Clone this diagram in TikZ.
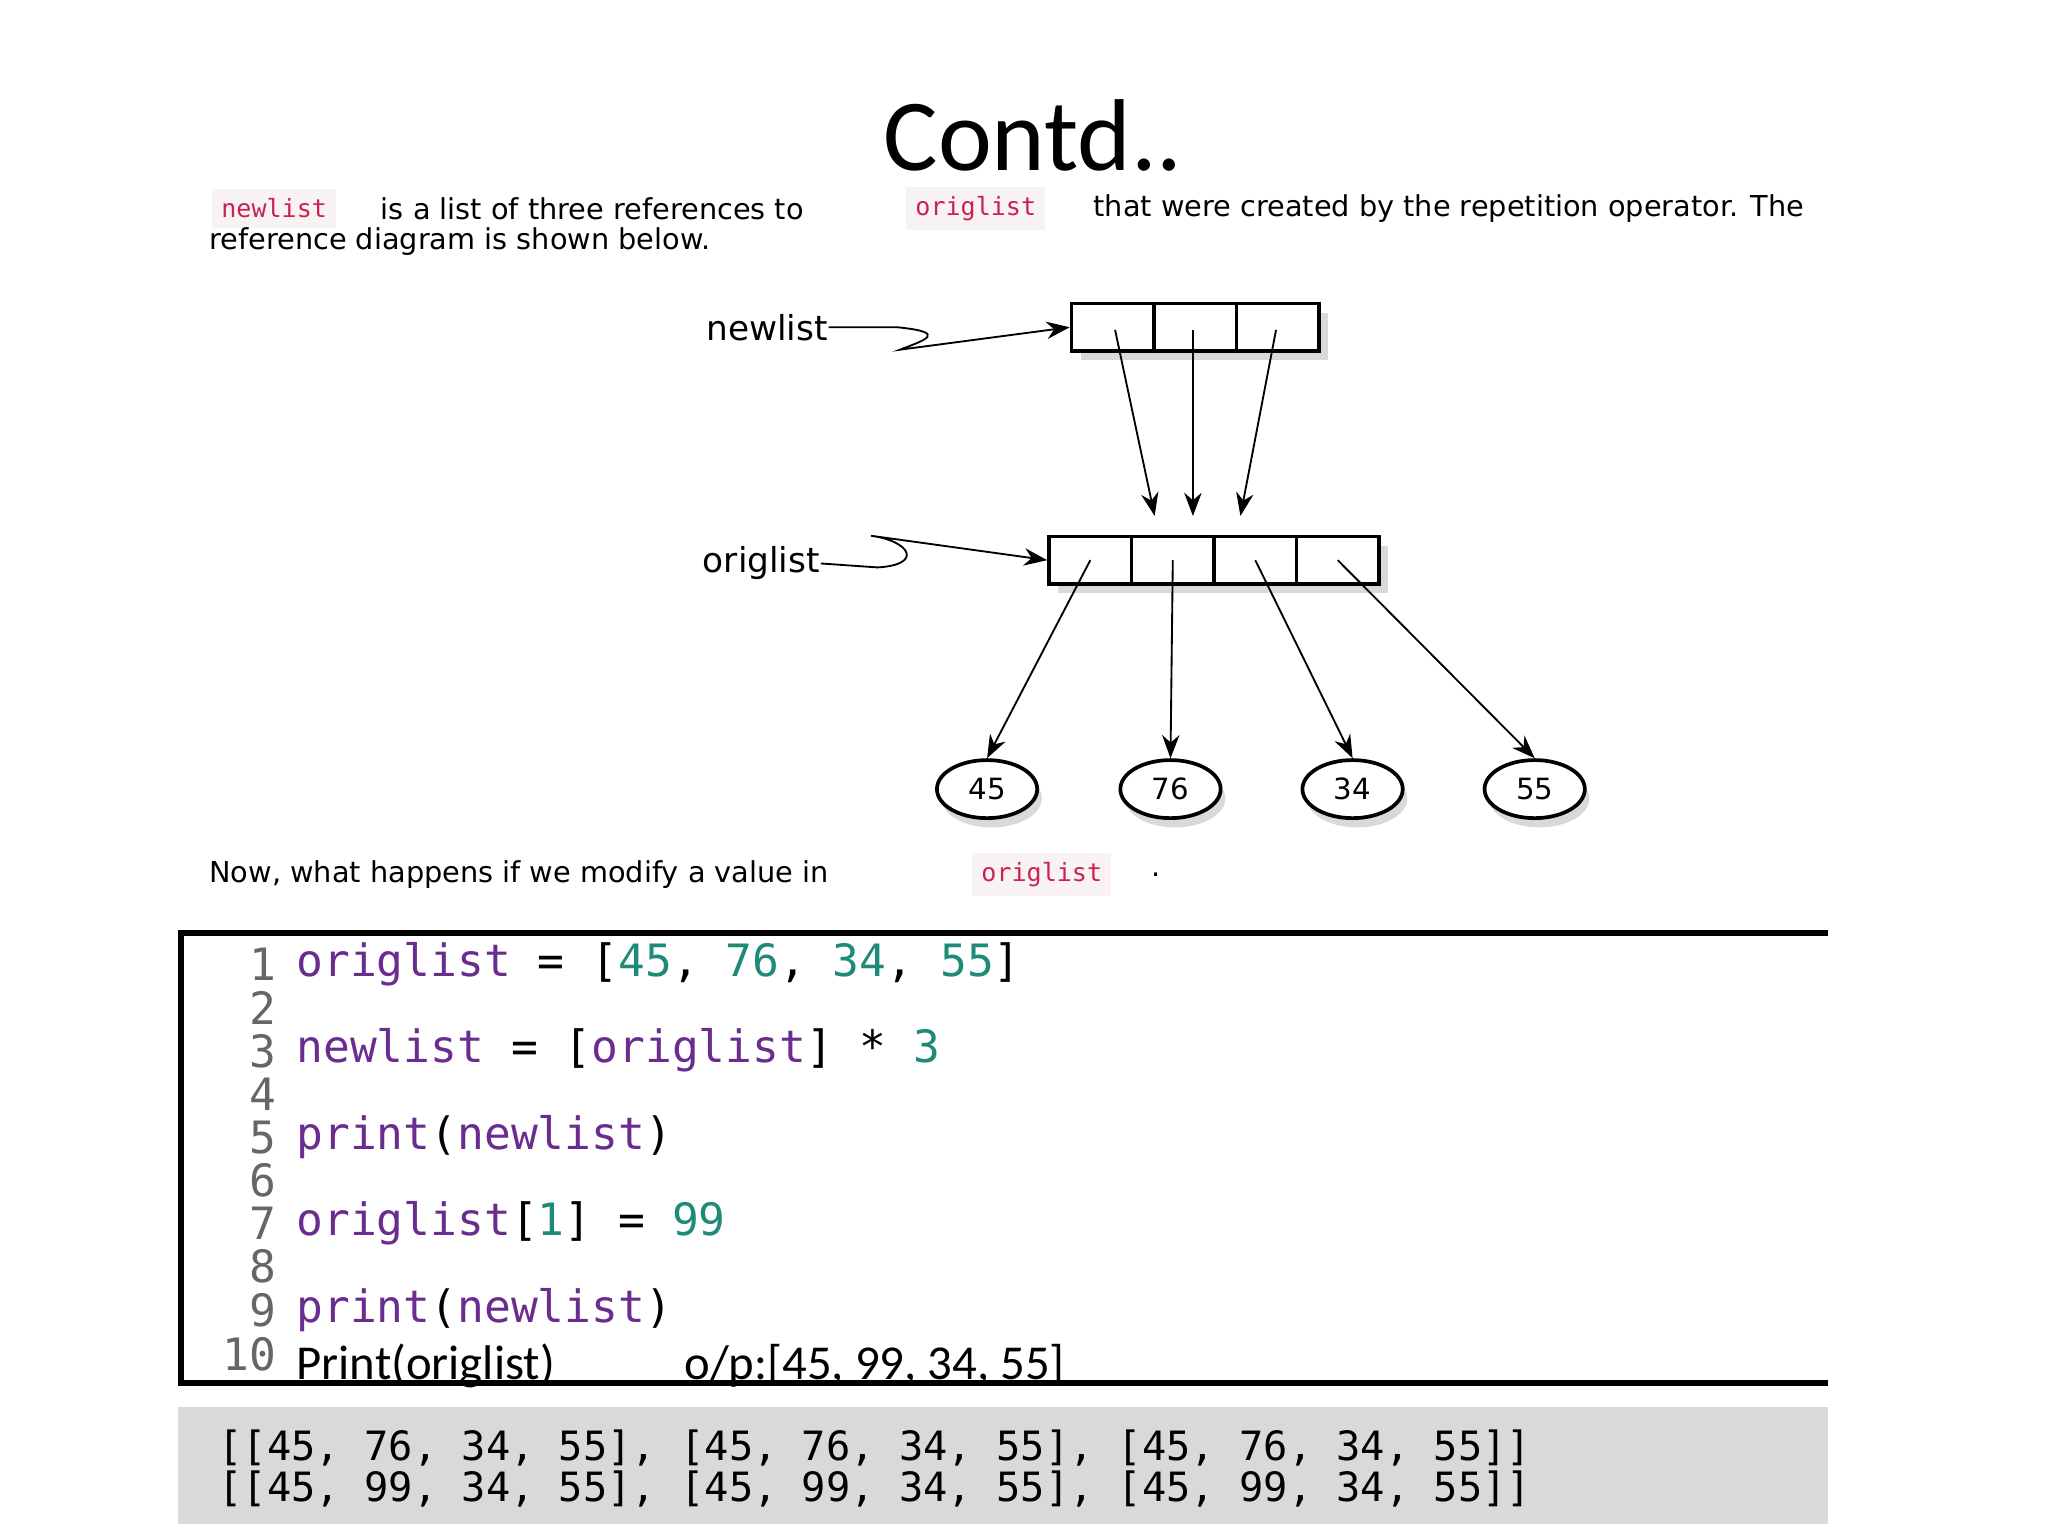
\documentclass[tikz,border=0pt]{standalone}
\usepackage{fontspec}
\setmainfont{Carlito}
\newfontfamily\para{DejaVu Sans}
\newfontfamily\mono{DejaVu Sans Mono}
\usetikzlibrary{arrows.meta,shadows,shapes.geometric}
\definecolor{idc}{HTML}{6A2C8E}
\definecolor{numc}{HTML}{1E8A78}
\definecolor{pinkc}{HTML}{C7254E}
\definecolor{pinkbg}{HTML}{F9F2F4}
\begin{document}
\begin{tikzpicture}[x=0.01cm,y=-0.01cm,
  mycell/.style={draw,thick,minimum width=62.5*0.01cm,minimum height=36*0.01cm,inner sep=0,fill=white,drop shadow={shadow xshift=2pt,shadow yshift=-2pt,opacity=0.3}},
  myval/.style={draw,thick,ellipse,minimum width=76*0.01cm,minimum height=44*0.01cm,inner sep=0,fill=white,font=\para\fontsize{6.3}{7}\selectfont,drop shadow={shadow xshift=1pt,shadow yshift=-2pt,opacity=0.3}},
  myref/.style={-{Stealth[length=5pt]},thin},
  ptxt/.style={font=\para\fontsize{6.2}{7}\selectfont,inner sep=0,anchor=west},
  pcode/.style={font=\mono\fontsize{5.4}{6}\selectfont,text=pinkc,fill=pinkbg,inner sep=2pt,anchor=west},
  mycode/.style={font=\mono\fontsize{9.6}{10}\selectfont,inner sep=0,anchor=west},
  lno/.style={font=\mono\fontsize{9.6}{10}\selectfont,text=gray!80!black,inner sep=0,anchor=east},
  outtxt/.style={font=\mono\fontsize{8.7}{9}\selectfont,inner sep=0,anchor=west}]
\useasboundingbox (0,0) rectangle (1552,1164);
\node (title) at (783,103) {\fontsize{22}{24}\selectfont Contd..};
\node[pcode] (p1) at (160,158) {newlist};
\node[ptxt] (t1) at (288,158) {is a list of three references to};
\node[pcode] (p2) at (686,158) {origlist};
\node[ptxt] (t2) at (828,158) {that were created by the repetition operator. The};
\node[ptxt] (t3) at (158,183) {reference diagram is shown below.};
\node[mycell] (n1) at (843.25,248) {};
\node[mycell] (n2) at (905.75,248) {};
\node[mycell] (n3) at (968.25,248) {};
\node[mycell] (o1) at (826.25,424.5) {};
\node[mycell] (o2) at (888.75,424.5) {};
\node[mycell] (o3) at (951.25,424.5) {};
\node[mycell] (o4) at (1013.75,424.5) {};
\node[font=\para\fontsize{7.4}{8}\selectfont,inner sep=0,anchor=east] (nl) at (628,248) {newlist};
\node[font=\para\fontsize{7.4}{8}\selectfont,inner sep=0,anchor=east] (ol) at (622,427) {origlist};
\draw[myref] (nl.east) -- (680,248) .. controls (720,252) and (700,258) .. (682,265) -- (n1.west);
\draw[myref] (ol.east) -- (665,430) .. controls (700,428) and (690,410) .. (660,406) -- (o1.west);
\coordinate (a1) at (845,250); \coordinate (a2) at (904,250); \coordinate (a3) at (967,250);
\draw[myref] (a1) -- (875,391);
\draw[myref] (a2) -- (904,391);
\draw[myref] (a3) -- (940,391);
\node[myval] (v1) at (748,598) {45};
\node[myval] (v2) at (887,598) {76};
\node[myval] (v3) at (1025,598) {34};
\node[myval] (v4) at (1163,598) {55};
\draw[myref] (o1.center) -- (v1.north);
\draw[myref] (o2.center) -- (v2.north);
\draw[myref] (o3.center) -- (v3.north);
\draw[myref] (o4.center) -- (v4.north);
\node[ptxt] (t4) at (158,663) {Now, what happens if we modify a value in};
\node[pcode] (p3) at (736,663) {origlist};
\node[ptxt] (dot) at (872,663) {.};
\draw[line width=1.2pt] (1385,707) -- (137,707) -- (137,1048) -- (1385,1048);
\foreach \i in {1,...,9} \node[lno] at (210,731+32.7*\i-32.7) {\i};
\node[lno] at (210,1026) {10};
\node[mycode] at (224,731) {\textcolor{idc}{origlist} = [\textcolor{numc}{45}, \textcolor{numc}{76}, \textcolor{numc}{34}, \textcolor{numc}{55}]};
\node[mycode] at (224,796) {\textcolor{idc}{newlist} = [\textcolor{idc}{origlist}] * \textcolor{numc}{3}};
\node[mycode] at (224,862) {\textcolor{idc}{print}(\textcolor{idc}{newlist})};
\node[mycode] at (224,927) {\textcolor{idc}{origlist}[\textcolor{numc}{1}] = \textcolor{numc}{99}};
\node[mycode] at (224,993) {\textcolor{idc}{print}(\textcolor{idc}{newlist})};
\node[inner sep=0,anchor=west,font=\fontsize{10.5}{11}\selectfont] at (224,1035) {Print(origlist)};
\node[inner sep=0,anchor=west,font=\fontsize{10.5}{11}\selectfont] at (518,1035) {o/p:[45, 99, 34, 55]};
\fill[gray!30] (135,1066) rectangle (1385,1155);
\node[outtxt] at (165,1097) {[[45, 76, 34, 55], [45, 76, 34, 55], [45, 76, 34, 55]]};
\node[outtxt] at (165,1128) {[[45, 99, 34, 55], [45, 99, 34, 55], [45, 99, 34, 55]]};
\end{tikzpicture}
\end{document}
